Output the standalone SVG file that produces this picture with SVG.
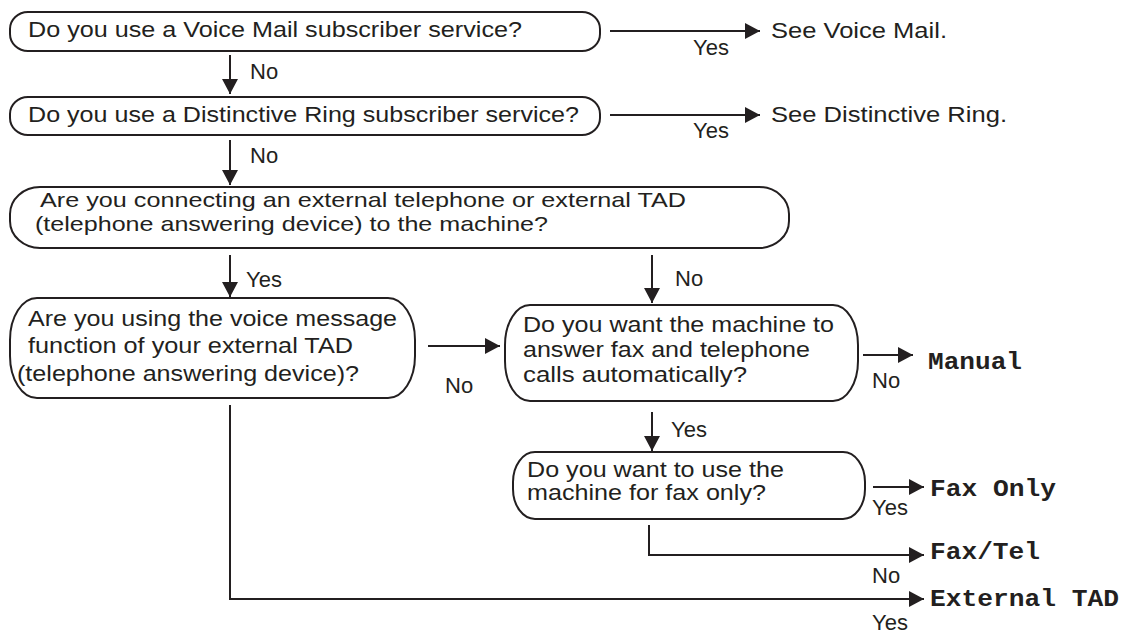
<svg xmlns="http://www.w3.org/2000/svg" width="1122" height="633" viewBox="0 0 1122 633">
<defs>
<marker id="ah" markerUnits="userSpaceOnUse" markerWidth="16" markerHeight="18" viewBox="0 0 16 18" refX="15" refY="9" orient="auto">
<path d="M0,1 L15,9 L0,17 Z" fill="#231f20"/>
</marker>
<style>
.n{fill:#fff;stroke:#231f20;stroke-width:2}
.c{fill:none;stroke:#231f20;stroke-width:2;marker-end:url(#ah)}
.q{font-family:"Liberation Sans",Arial,sans-serif;font-size:22px;fill:#231f20}
.q3{font-family:"Liberation Sans",Arial,sans-serif;font-size:21px;fill:#231f20}
.l{font-family:"Liberation Sans",Arial,sans-serif;font-size:22px;fill:#231f20}
.m{font-family:"Liberation Mono","Courier New",monospace;font-size:23px;font-weight:bold;fill:#231f20}
</style>
</defs>
<rect width="1122" height="633" fill="#fff"/>
<g id="connectors">
<path class="c" d="M230 55 V94"/>
<path class="c" d="M230 140 V185"/>
<path class="c" d="M610 31 H760"/>
<path class="c" d="M610 115 H760"/>
<path class="c" d="M230 255 V297"/>
<path class="c" d="M652 255 V303"/>
<path class="c" d="M428 346 H500"/>
<path class="c" d="M863 355 H913"/>
<path class="c" d="M652 412 V451"/>
<path class="c" d="M873 487 H924"/>
<path class="c" d="M649 525 V555 H924"/>
<path class="c" d="M230 405 V599 H924"/>
</g>
<g id="labels">
<text class="l" x="250" y="79">No</text>
<text class="l" x="250" y="163">No</text>
<text class="l" x="693" y="55">Yes</text>
<text class="l" x="693" y="138">Yes</text>
<text class="l" x="246" y="287">Yes</text>
<text class="l" x="675" y="286">No</text>
<text class="l" x="445" y="393">No</text>
<text class="l" x="872" y="388">No</text>
<text class="l" x="671" y="437">Yes</text>
<text class="l" x="872" y="515">Yes</text>
<text class="l" x="872" y="583">No</text>
<text class="l" x="872" y="630">Yes</text>
</g>
<g id="q1">
<rect class="n" x="10" y="12" width="590" height="39" rx="18" ry="17"/>
<text class="q" x="28" y="37" textLength="494" lengthAdjust="spacingAndGlyphs">Do you use a Voice Mail subscriber service?</text>
</g>
<g id="r1">
<text class="q" x="771" y="38" textLength="176" lengthAdjust="spacingAndGlyphs">See Voice Mail.</text>
</g>
<g id="q2">
<rect class="n" x="10" y="97" width="590" height="38" rx="18" ry="17"/>
<text class="q" x="28" y="122" textLength="551" lengthAdjust="spacingAndGlyphs">Do you use a Distinctive Ring subscriber service?</text>
</g>
<g id="r2">
<text class="q" x="771" y="122" textLength="236" lengthAdjust="spacingAndGlyphs">See Distinctive Ring.</text>
</g>
<g id="q3">
<rect class="n" x="10" y="187" width="779" height="61" rx="30" ry="27"/>
<text class="q3" x="40" y="207" textLength="646" lengthAdjust="spacingAndGlyphs">Are you connecting an external telephone or external TAD</text>
<text class="q3" x="35" y="231" textLength="513" lengthAdjust="spacingAndGlyphs">(telephone answering device) to the machine?</text>
</g>
<g id="q4">
<rect class="n" x="10" y="298" width="405" height="100" rx="27" ry="42"/>
<text class="q" x="28" y="326" textLength="369" lengthAdjust="spacingAndGlyphs">Are you using the voice message</text>
<text class="q" x="28" y="353" textLength="325" lengthAdjust="spacingAndGlyphs">function of your external TAD</text>
<text class="q" x="17" y="381" textLength="342" lengthAdjust="spacingAndGlyphs">(telephone answering device)?</text>
</g>
<g id="q5">
<rect class="n" x="505" y="305" width="353" height="96" rx="25" ry="40"/>
<text class="q" x="523" y="332" textLength="311" lengthAdjust="spacingAndGlyphs">Do you want the machine to</text>
<text class="q" x="523" y="357" textLength="287" lengthAdjust="spacingAndGlyphs">answer fax and telephone</text>
<text class="q" x="523" y="382" textLength="224" lengthAdjust="spacingAndGlyphs">calls automatically?</text>
</g>
<g id="q6">
<rect class="n" x="513" y="452" width="352" height="67" rx="22" ry="30"/>
<text class="q" x="527" y="477" textLength="257" lengthAdjust="spacingAndGlyphs">Do you want to use the</text>
<text class="q" x="527" y="500" textLength="239" lengthAdjust="spacingAndGlyphs">machine for fax only?</text>
</g>
<g id="manual"><text class="m" x="928" y="369" textLength="94" lengthAdjust="spacingAndGlyphs">Manual</text></g>
<g id="faxonly"><text class="m" x="930" y="496" textLength="126" lengthAdjust="spacingAndGlyphs">Fax Only</text></g>
<g id="faxtel"><text class="m" x="930" y="559" textLength="110" lengthAdjust="spacingAndGlyphs">Fax/Tel</text></g>
<g id="exttad"><text class="m" x="930" y="606" textLength="189" lengthAdjust="spacingAndGlyphs">External TAD</text></g>
</svg>
